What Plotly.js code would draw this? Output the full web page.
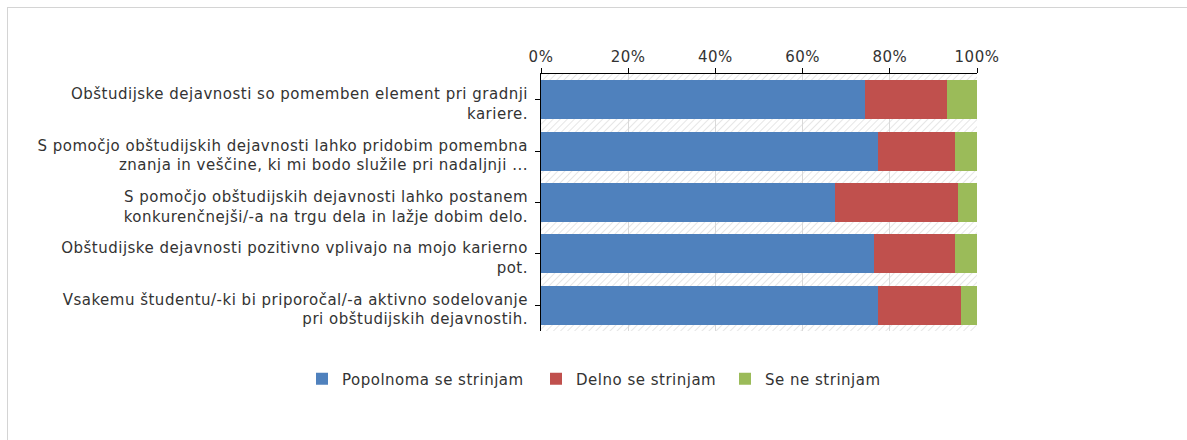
<!DOCTYPE html>
<html>
<head>
<meta charset="utf-8">
<script src="https://cdn.plot.ly/plotly-3.0.1.min.js"></script>
<style>
  html, body { margin: 0; padding: 0; background: #fff; }
  #wrap { position: relative; width: 1187px; height: 440px; overflow: hidden; }
  #frame { position: absolute; left: 7px; top: 7px; width: 1200px; height: 460px;
           border-left: 1px solid #d4d4d4; border-top: 1px solid #d4d4d4; box-sizing: border-box; }
  #chart { position: absolute; left: 0; top: 0; width: 1187px; height: 440px; }
  text { letter-spacing: 0.5px; }
</style>
</head>
<body>
<div id="wrap">
  <div id="frame"></div>
  <div id="chart"></div>
</div>
<script>
// Categories (statements), top to bottom
const categories = [
  "Obštudijske dejavnosti so pomemben element pri gradnji<br>kariere.",
  "S pomočjo obštudijskih dejavnosti lahko pridobim pomembna<br>znanja in veščine, ki mi bodo služile pri nadaljnji ...",
  "S pomočjo obštudijskih dejavnosti lahko postanem<br>konkurenčnejši/-a na trgu dela in lažje dobim delo.",
  "Obštudijske dejavnosti pozitivno vplivajo na mojo karierno<br>pot.",
  "Vsakemu študentu/-ki bi priporočal/-a aktivno sodelovanje<br>pri obštudijskih dejavnostih."
];

// Series names
const seriesNames = ["Popolnoma se strinjam", "Delno se strinjam", "Se ne strinjam"];

// Series values (percent)
const popolnoma = [74.2, 77.3, 67.4, 76.4, 77.3];
const delno     = [19.0, 17.6, 28.2, 18.5, 19.0];
const seNe      = [6.8, 5.1, 4.4, 5.1, 3.7];

// X axis ticks
const xTickVals = [0, 20, 40, 60, 80, 100];
const xTickText = ["0%", "20%", "40%", "60%", "80%", "100%"];

const colors = ["#4F81BD", "#C0504D", "#9BBB59"];
const seriesValues = [popolnoma, delno, seNe];
const legendIds = ["legend", "legend2", "legend3"];
const legendX = [302, 536, 725];   // container px (left of each legend entry)

const traces = seriesValues.map((vals, i) => ({
  type: "bar",
  orientation: "h",
  name: seriesNames[i],
  y: categories,
  x: vals,
  legend: legendIds[i],
  marker: { color: colors[i], line: { width: 0 } },
  hoverinfo: "skip"
}));

// Hatched plot background
const hatchSvg =
  '<svg xmlns="http://www.w3.org/2000/svg" width="436" height="257">' +
  '<defs><pattern id="h" width="5" height="5" patternUnits="userSpaceOnUse" patternTransform="rotate(45)">' +
  '<rect width="5" height="5" fill="#ffffff"/>' +
  '<line x1="0" y1="0" x2="0" y2="5" stroke="#e6e6e6" stroke-width="2"/>' +
  '</pattern></defs>' +
  '<rect width="436" height="257" fill="url(#h)"/></svg>';

const W = 1187, H = 440;

function legendDef(i) {
  return {
    orientation: "h",
    xref: "container", yref: "container",
    x: legendX[i] / W, xanchor: "left",
    y: 1 - 379 / H, yanchor: "middle",
    font: { size: 15, color: "#333333" },
    bgcolor: "rgba(0,0,0,0)"
  };
}

const layout = {
  width: W,
  height: H,
  margin: { l: 541, r: 210, t: 74, b: 109 },
  paper_bgcolor: "rgba(0,0,0,0)",
  plot_bgcolor: "rgba(0,0,0,0)",
  barmode: "stack",
  bargap: 0.24,
  font: { family: "DejaVu Sans, Verdana, sans-serif", size: 15, color: "#333333" },
  showlegend: true,
  legend: legendDef(0),
  legend2: legendDef(1),
  legend3: legendDef(2),
  xaxis: {
    side: "top",
    range: [0, 100],
    tickvals: xTickVals,
    ticktext: xTickText,
    showgrid: true,
    gridcolor: "#d9d9d9",
    gridwidth: 1,
    showline: true,
    linecolor: "#000000",
    linewidth: 1,
    ticks: "outside",
    ticklen: 5,
    tickcolor: "#000000",
    zeroline: false,
    fixedrange: true,
    tickfont: { size: 15, color: "#333333" }
  },
  yaxis: {
    autorange: "reversed",
    showline: true,
    linecolor: "#000000",
    linewidth: 1,
    ticks: "outside",
    ticklen: 5,
    tickcolor: "#000000",
    showgrid: false,
    fixedrange: true,
    ticklabelstandoff: 4,
    ticklabelshift: -4,
    tickfont: { size: 15, color: "#333333" }
  },
  images: [{
    source: "data:image/svg+xml;utf8," + encodeURIComponent(hatchSvg),
    xref: "paper", yref: "paper",
    x: 0, y: 1, sizex: 1, sizey: 1,
    xanchor: "left", yanchor: "top",
    sizing: "stretch",
    layer: "below"
  }]
};

Plotly.newPlot("chart", traces, layout, { displayModeBar: false, staticPlot: true });
</script>
</body>
</html>
